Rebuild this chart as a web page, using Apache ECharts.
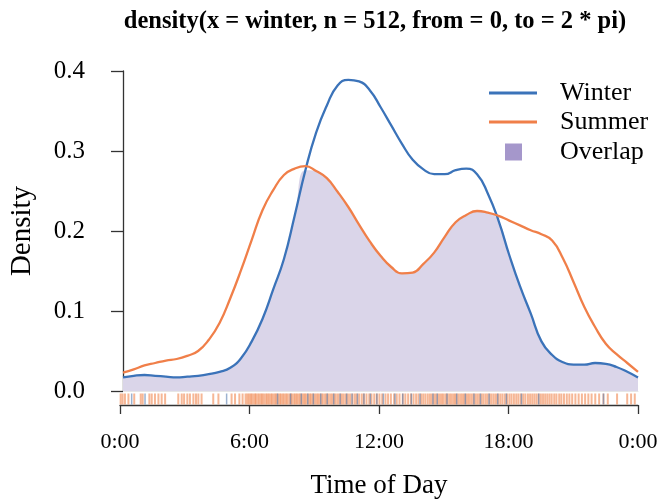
<!DOCTYPE html>
<html>
<head>
<meta charset="utf-8">
<script src="https://cdn.jsdelivr.net/npm/echarts@6/dist/echarts.min.js"></script>
<style>
  html, body { margin: 0; padding: 0; background: #fff; }
  #chart { width: 661px; height: 504px; }
</style>
</head>
<body>
<div id="chart"></div>
<script>
// hour of day where the densities were read (every half hour)
const hours = [0, 0.5, 1, 1.5, 2, 2.5, 3, 3.5, 4, 4.5, 5, 5.5, 6, 6.5, 7, 7.5, 8, 8.5, 9, 9.5, 10, 10.5, 11, 11.5,
  12, 12.5, 13, 13.5, 14, 14.5, 15, 15.5, 16, 16.5, 17, 17.5, 18, 18.5, 19, 19.5, 20, 20.5, 21, 21.5, 22, 22.5, 23, 23.5, 24];
const winter = [0.017, 0.019, 0.020, 0.019, 0.018, 0.017, 0.018, 0.019, 0.021, 0.024, 0.029, 0.041, 0.062, 0.090, 0.127, 0.165,
  0.219, 0.276, 0.323, 0.357, 0.382, 0.389, 0.387, 0.376, 0.355, 0.332, 0.309, 0.289, 0.277, 0.271, 0.271, 0.276, 0.278, 0.271,
  0.247, 0.213, 0.170, 0.131, 0.097, 0.062, 0.045, 0.036, 0.033, 0.033, 0.035, 0.034, 0.030, 0.024, 0.017];
const summer = [0.023, 0.027, 0.032, 0.035, 0.038, 0.040, 0.044, 0.050, 0.064, 0.085, 0.116, 0.151, 0.189, 0.226, 0.251, 0.270,
  0.278, 0.281, 0.275, 0.266, 0.249, 0.230, 0.208, 0.187, 0.169, 0.155, 0.147, 0.148, 0.159, 0.173, 0.193, 0.211, 0.220, 0.225,
  0.223, 0.219, 0.213, 0.207, 0.201, 0.196, 0.188, 0.166, 0.136, 0.105, 0.080, 0.059, 0.046, 0.035, 0.024];

// rug: observation times (hours)
const summerRug = [0.03, 0.12, 0.23, 0.39, 0.66, 0.96, 1.05, 1.36, 1.47, 1.62, 1.78, 1.93, 2.09, 2.70, 2.86, 2.97, 3.12, 3.24, 3.40, 3.52, 3.63, 3.78, 4.32, 4.56, 5.17, 5.33, 5.53, 5.68,
  5.82, 5.9, 5.97, 6.05, 6.1, 6.18, 6.26, 6.31, 6.4, 6.47, 6.55, 6.6, 6.68, 6.77, 6.83, 6.9, 6.98, 7.04, 7.12, 7.2, 7.25, 7.33, 7.41, 7.47, 7.55, 7.62, 7.7, 7.76, 7.85, 7.92, 7.98,
  8.07, 8.13, 8.2, 8.28, 8.35, 8.42, 8.5, 8.56, 8.63, 8.72, 8.8, 8.86, 8.94, 9.02, 9.1, 9.17, 9.25, 9.33, 9.4, 9.5, 9.58, 9.66, 9.75, 9.83, 9.92, 10.0, 10.1, 10.2, 10.28, 10.37,
  10.47, 10.56, 10.66, 10.77, 10.88, 10.97, 11.08, 11.2, 11.3, 11.42, 11.55, 11.65, 11.78, 11.9, 12.02, 12.15, 12.3, 12.42, 12.55, 12.7, 12.82, 12.95, 13.1, 13.22, 13.35, 13.48,
  13.6, 13.72, 13.83, 13.95, 14.05, 14.15, 14.26, 14.36, 14.45, 14.55, 14.64, 14.74, 14.83, 14.92, 15.0, 15.1, 15.18, 15.27, 15.35, 15.44, 15.52, 15.6, 15.69, 15.78, 15.86, 15.94,
  16.03, 16.12, 16.2, 16.29, 16.38, 16.47, 16.56, 16.65, 16.75, 16.84, 16.94, 17.03, 17.13, 17.22, 17.32, 17.42, 17.52, 17.62, 17.72, 17.83, 17.93, 18.04, 18.14, 18.25, 18.36,
  18.46, 18.57, 18.68, 18.78, 18.9, 19.0, 19.1, 19.2, 19.3, 19.4, 19.5, 19.6, 19.7, 19.8, 19.9, 20.0, 20.12, 20.22, 20.35, 20.45, 20.57, 20.7, 20.82, 20.95, 21.1, 21.25, 21.4,
  21.55, 21.7, 21.85, 22.02, 22.2, 22.4, 22.6, 23.03, 23.5, 23.68, 23.85];
const winterRug = [0.54, 1.16, 4.94, 7.3, 7.9, 8.4, 8.7, 8.96, 9.3, 9.6, 9.9, 10.2, 10.5, 10.75, 11.0, 11.3, 11.6, 11.9, 12.2, 12.74, 13.1, 13.5, 13.9, 14.5, 14.7, 15.15,
  15.6, 16.0, 16.4, 16.7, 17.1, 17.5, 17.9, 18.6, 19.4, 22.4];

const xTicks = ['0:00', '6:00', '12:00', '18:00', '0:00'];

const blue = '#3B73B9';
const orange = '#F07F49';
const font = 'Liberation Serif';

const overlap = hours.map((h, i) => [h, Math.min(winter[i], summer[i])]);

const chart = echarts.init(document.getElementById('chart'));

const option = {
    animation: false,
    textStyle: { fontFamily: font, color: '#000' },
    title: {
        text: 'density(x = winter, n = 512, from = 0, to = 2 * pi)',
        left: 370,
        textAlign: 'center',
        top: 4,
        textStyle: { fontFamily: font, fontWeight: 'bold', fontSize: 24.5, color: '#000' },
    },
    legend: [
        {
            orient: 'vertical',
            left: 484,
            top: 75,
            icon: 'rect',
            itemWidth: 48,
            itemHeight: 3,
            itemGap: 3,
            textStyle: { fontFamily: font, fontSize: 26, lineHeight: 26, color: '#000', padding: [0, 0, 0, 18] },
            data: [
                { name: 'Winter', itemStyle: { color: blue } },
                { name: 'Summer', itemStyle: { color: orange } },
            ],
        },
        {
            left: 500,
            top: 134,
            icon: 'rect',
            itemWidth: 17,
            itemHeight: 17,
            textStyle: { fontFamily: font, fontSize: 26, lineHeight: 26, color: '#000', padding: [0, 0, 0, 33] },
            data: [{ name: 'Overlap', itemStyle: { color: '#A597CB' } }],
        },
    ],
    grid: [
        { left: 120, right: 23, top: 71, bottom: 113 },
        { left: 120, right: 23, top: 393, height: 12 },
    ],
    xAxis: [
        {
            gridIndex: 0,
            type: 'value',
            min: 0,
            max: 24,
            axisLine: { show: true, lineStyle: { color: '#e6e6e6', width: 1 } },
            axisTick: { show: false },
            axisLabel: { show: false },
            splitLine: { show: false },
        },
        {
            gridIndex: 1,
            type: 'value',
            min: 0,
            max: 24,
            interval: 6,
            name: 'Time of Day',
            nameLocation: 'middle',
            nameGap: 67,
            nameTextStyle: { fontFamily: font, fontSize: 27, color: '#000' },
            axisLine: { show: true, lineStyle: { color: '#333', width: 1.3 } },
            axisTick: { show: true, length: 9, lineStyle: { color: '#333', width: 1.3 } },
            axisLabel: {
                margin: 26,
                fontFamily: font,
                fontSize: 22,
                color: '#000',
                formatter: (v) => xTicks[Math.round(v / 6)],
            },
            splitLine: { show: false },
        },
    ],
    yAxis: [
        {
            gridIndex: 0,
            type: 'value',
            min: 0,
            max: 0.4,
            interval: 0.1,
            offset: 21,
            name: 'Density',
            nameLocation: 'middle',
            nameGap: 65,
            nameTextStyle: { fontFamily: font, fontSize: 29, color: '#000' },
            axisLine: { show: true, lineStyle: { color: '#333', width: 1.3 } },
            axisTick: { show: true, length: 12, lineStyle: { color: '#333', width: 1.3 } },
            axisLabel: {
                margin: 17,
                fontFamily: font,
                fontSize: 25,
                color: '#000',
                formatter: (v) => v.toFixed(1),
            },
            splitLine: { show: false },
        },
        {
            gridIndex: 1,
            type: 'value',
            min: 0,
            max: 1,
            show: false,
        },
    ],
    series: [
        {
            name: 'Overlap',
            type: 'line',
            xAxisIndex: 0,
            yAxisIndex: 0,
            data: overlap,
            smooth: 0.5,
            showSymbol: false,
            lineStyle: { width: 0 },
            itemStyle: { color: '#A597CB' },
            areaStyle: { color: '#DAD5E9', opacity: 1 },
            z: 1,
        },
        {
            name: 'Winter',
            type: 'line',
            xAxisIndex: 0,
            yAxisIndex: 0,
            data: hours.map((h, i) => [h, winter[i]]),
            smooth: 0.5,
            showSymbol: false,
            lineStyle: { color: blue, width: 2.3 },
            itemStyle: { color: blue },
            z: 3,
        },
        {
            name: 'Summer',
            type: 'line',
            xAxisIndex: 0,
            yAxisIndex: 0,
            data: hours.map((h, i) => [h, summer[i]]),
            smooth: 0.5,
            showSymbol: false,
            lineStyle: { color: orange, width: 2.3 },
            itemStyle: { color: orange },
            z: 3,
        },
        {
            name: 'summerRug',
            type: 'scatter',
            xAxisIndex: 1,
            yAxisIndex: 1,
            data: summerRug.map((h) => [h, 0.5]),
            symbol: 'rect',
            symbolSize: [2, 11],
            itemStyle: { color: '#F08A55', opacity: 0.62 },
            silent: true,
        },
        {
            name: 'winterRug',
            type: 'scatter',
            xAxisIndex: 1,
            yAxisIndex: 1,
            data: winterRug.map((h) => [h, 0.5]),
            symbol: 'rect',
            symbolSize: [1.5, 11],
            itemStyle: { color: '#5A7FB0', opacity: 0.6 },
            silent: true,
        },
    ],
};

chart.setOption(option);

window.addEventListener('resize', () => {
    chart.resize();
});
</script>
</body>
</html>
